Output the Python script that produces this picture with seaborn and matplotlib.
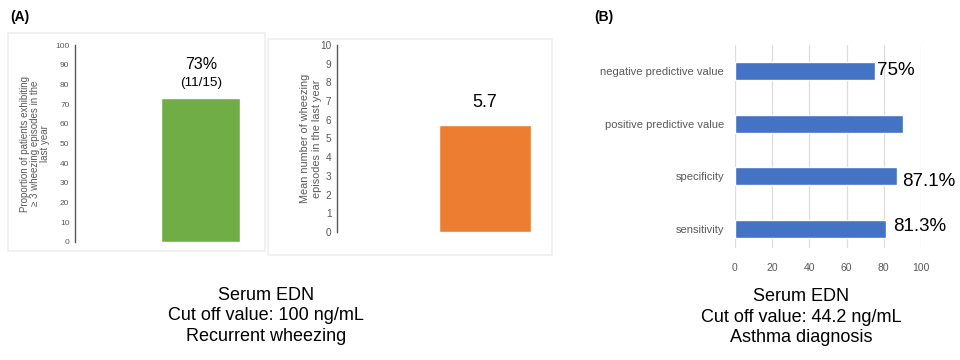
import matplotlib
matplotlib.use("Agg")
import matplotlib.pyplot as plt
import seaborn as sns
import pandas as pd
from matplotlib.patches import Rectangle

# panel A, left: share of patients with >= 3 wheezing episodes
prop_cat = ["EDN > 100"]
prop_val = [73]
prop_label = ["73%"]
prop_count = ["(11/15)"]

# panel A, right: mean number of wheezing episodes
mean_cat = ["EDN > 100"]
mean_val = [5.7]
mean_label = ["5.7"]

# panel B: diagnostic performance
diag_cat = ["negative predictive value", "positive predictive value", "specificity", "sensitivity"]
diag_val = [75, 90.3, 87.1, 81.3]
diag_label = ["75%", "", "87.1%", "81.3%"]

W, H = 960, 360
GRAY = "#595959"


def box(l, t, r, b):
    # pixel box -> figure fraction
    return [l / W, 1 - b / H, (r - l) / W, (b - t) / H]


sns.set_theme(style="white")
plt.rcParams["font.family"] = ["Liberation Sans", "DejaVu Sans"]
plt.rcParams["text.color"] = "black"

fig = plt.figure(figsize=(W / 100, H / 100), dpi=100)

# faint frames around the two small charts of panel A
for l, t, r, b in [(8, 33, 265, 251), (268, 39, 552, 255)]:
    fig.patches.append(Rectangle((l / W, 1 - b / H), (r - l) / W, (b - t) / H,
                                 transform=fig.transFigure, fill=False,
                                 edgecolor="#efefef", lw=1.2))

fig.text(10 / W, 1 - 17 / H, "(A)", fontsize=10, weight="bold", va="center", ha="left")
fig.text(594 / W, 1 - 17 / H, "(B)", fontsize=10, weight="bold", va="center", ha="left")


def style_vbar(ax, tick_size):
    for s in ["top", "right", "bottom"]:
        ax.spines[s].set_visible(False)
    ax.spines["left"].set_color(GRAY)
    ax.spines["left"].set_linewidth(1.0)
    ax.set_xticks([])
    ax.set_xlabel("")
    ax.tick_params(axis="y", length=0, pad=4, labelsize=tick_size, labelcolor=GRAY)
    ax.patch.set_alpha(0)


# --- A1
ax1 = fig.add_axes(box(75, 45, 262, 242))
df1 = pd.DataFrame({"cat": prop_cat, "val": prop_val})
sns.barplot(data=df1, x="cat", y="val", color="#70AD47", saturation=1, width=0.93, ax=ax1)
ax1.set_xlim(-1.48, 0.72)
ax1.set_ylim(0, 100)
ax1.set_yticks(range(0, 101, 10))
style_vbar(ax1, 6)
ax1.set_ylabel("Proportion of patients exhibiting\n≥ 3 wheezing episodes in the\nlast year",
               fontsize=7, color=GRAY, linespacing=1.0)
ax1.yaxis.set_label_coords(-0.135, 0.5)
for i, v in enumerate(prop_val):
    ax1.text(i, v + 17, prop_label[i], ha="center", va="center", fontsize=11.5)
    ax1.text(i, v + 7.5, prop_count[i], ha="center", va="center", fontsize=9.7)

# --- A2
ax2 = fig.add_axes(box(337, 45, 550, 232))
df2 = pd.DataFrame({"cat": mean_cat, "val": mean_val})
sns.barplot(data=df2, x="cat", y="val", color="#ED7D31", saturation=1, width=0.95, ax=ax2)
ax2.set_xlim(-1.53, 0.67)
ax2.set_ylim(0, 10)
ax2.set_yticks(range(0, 11))
style_vbar(ax2, 7.2)
ax2.set_ylabel("Mean number of wheezing\nepisodes in the last year",
               fontsize=7.8, color=GRAY, linespacing=1.2)
ax2.yaxis.set_label_coords(-0.072, 0.5)
for i, v in enumerate(mean_val):
    ax2.text(i, v + 1.25, mean_label[i], ha="center", va="center", fontsize=13)

# --- B
ax3 = fig.add_axes(box(735, 45, 921, 248))
df3 = pd.DataFrame({"cat": diag_cat, "val": diag_val})
sns.barplot(data=df3, x="val", y="cat", orient="h", color="#4472C4", saturation=1,
            width=0.34, ax=ax3, zorder=3)
ax3.set_xlim(0, 100)
ax3.set_ylim(3.36, -0.49)
ax3.set_xticks(range(0, 101, 20))
ax3.grid(axis="x", color="#dcdcdc", lw=0.9, zorder=0)
ax3.set_axisbelow(True)
for s in ax3.spines.values():
    s.set_visible(False)
ax3.set_xlabel("")
ax3.set_ylabel("")
ax3.tick_params(axis="x", length=0, pad=11, labelsize=7.5, labelcolor=GRAY)
ax3.tick_params(axis="y", length=0, pad=8, labelsize=8, labelcolor=GRAY)
label_dx = [1.3, 0, 2.7, 3.6]
label_dy = [0.0, 0, 0.1, -0.04]
for i, v in enumerate(diag_val):
    if diag_label[i]:
        ax3.text(v + label_dx[i], i + label_dy[i], diag_label[i], ha="left", va="center",
                 fontsize=13.5, clip_on=False)

# captions
fig.text(266 / W, 1 - 316 / H, "Serum EDN\nCut off value: 100 ng/mL\nRecurrent wheezing",
         ha="center", va="center", fontsize=13, linespacing=1.25)
fig.text(801 / W, 1 - 317 / H, "Serum EDN\nCut off value: 44.2 ng/mL\nAsthma diagnosis",
         ha="center", va="center", fontsize=13, linespacing=1.25)

fig.savefig("out.png", dpi=100, facecolor="white")
plt.close(fig)
